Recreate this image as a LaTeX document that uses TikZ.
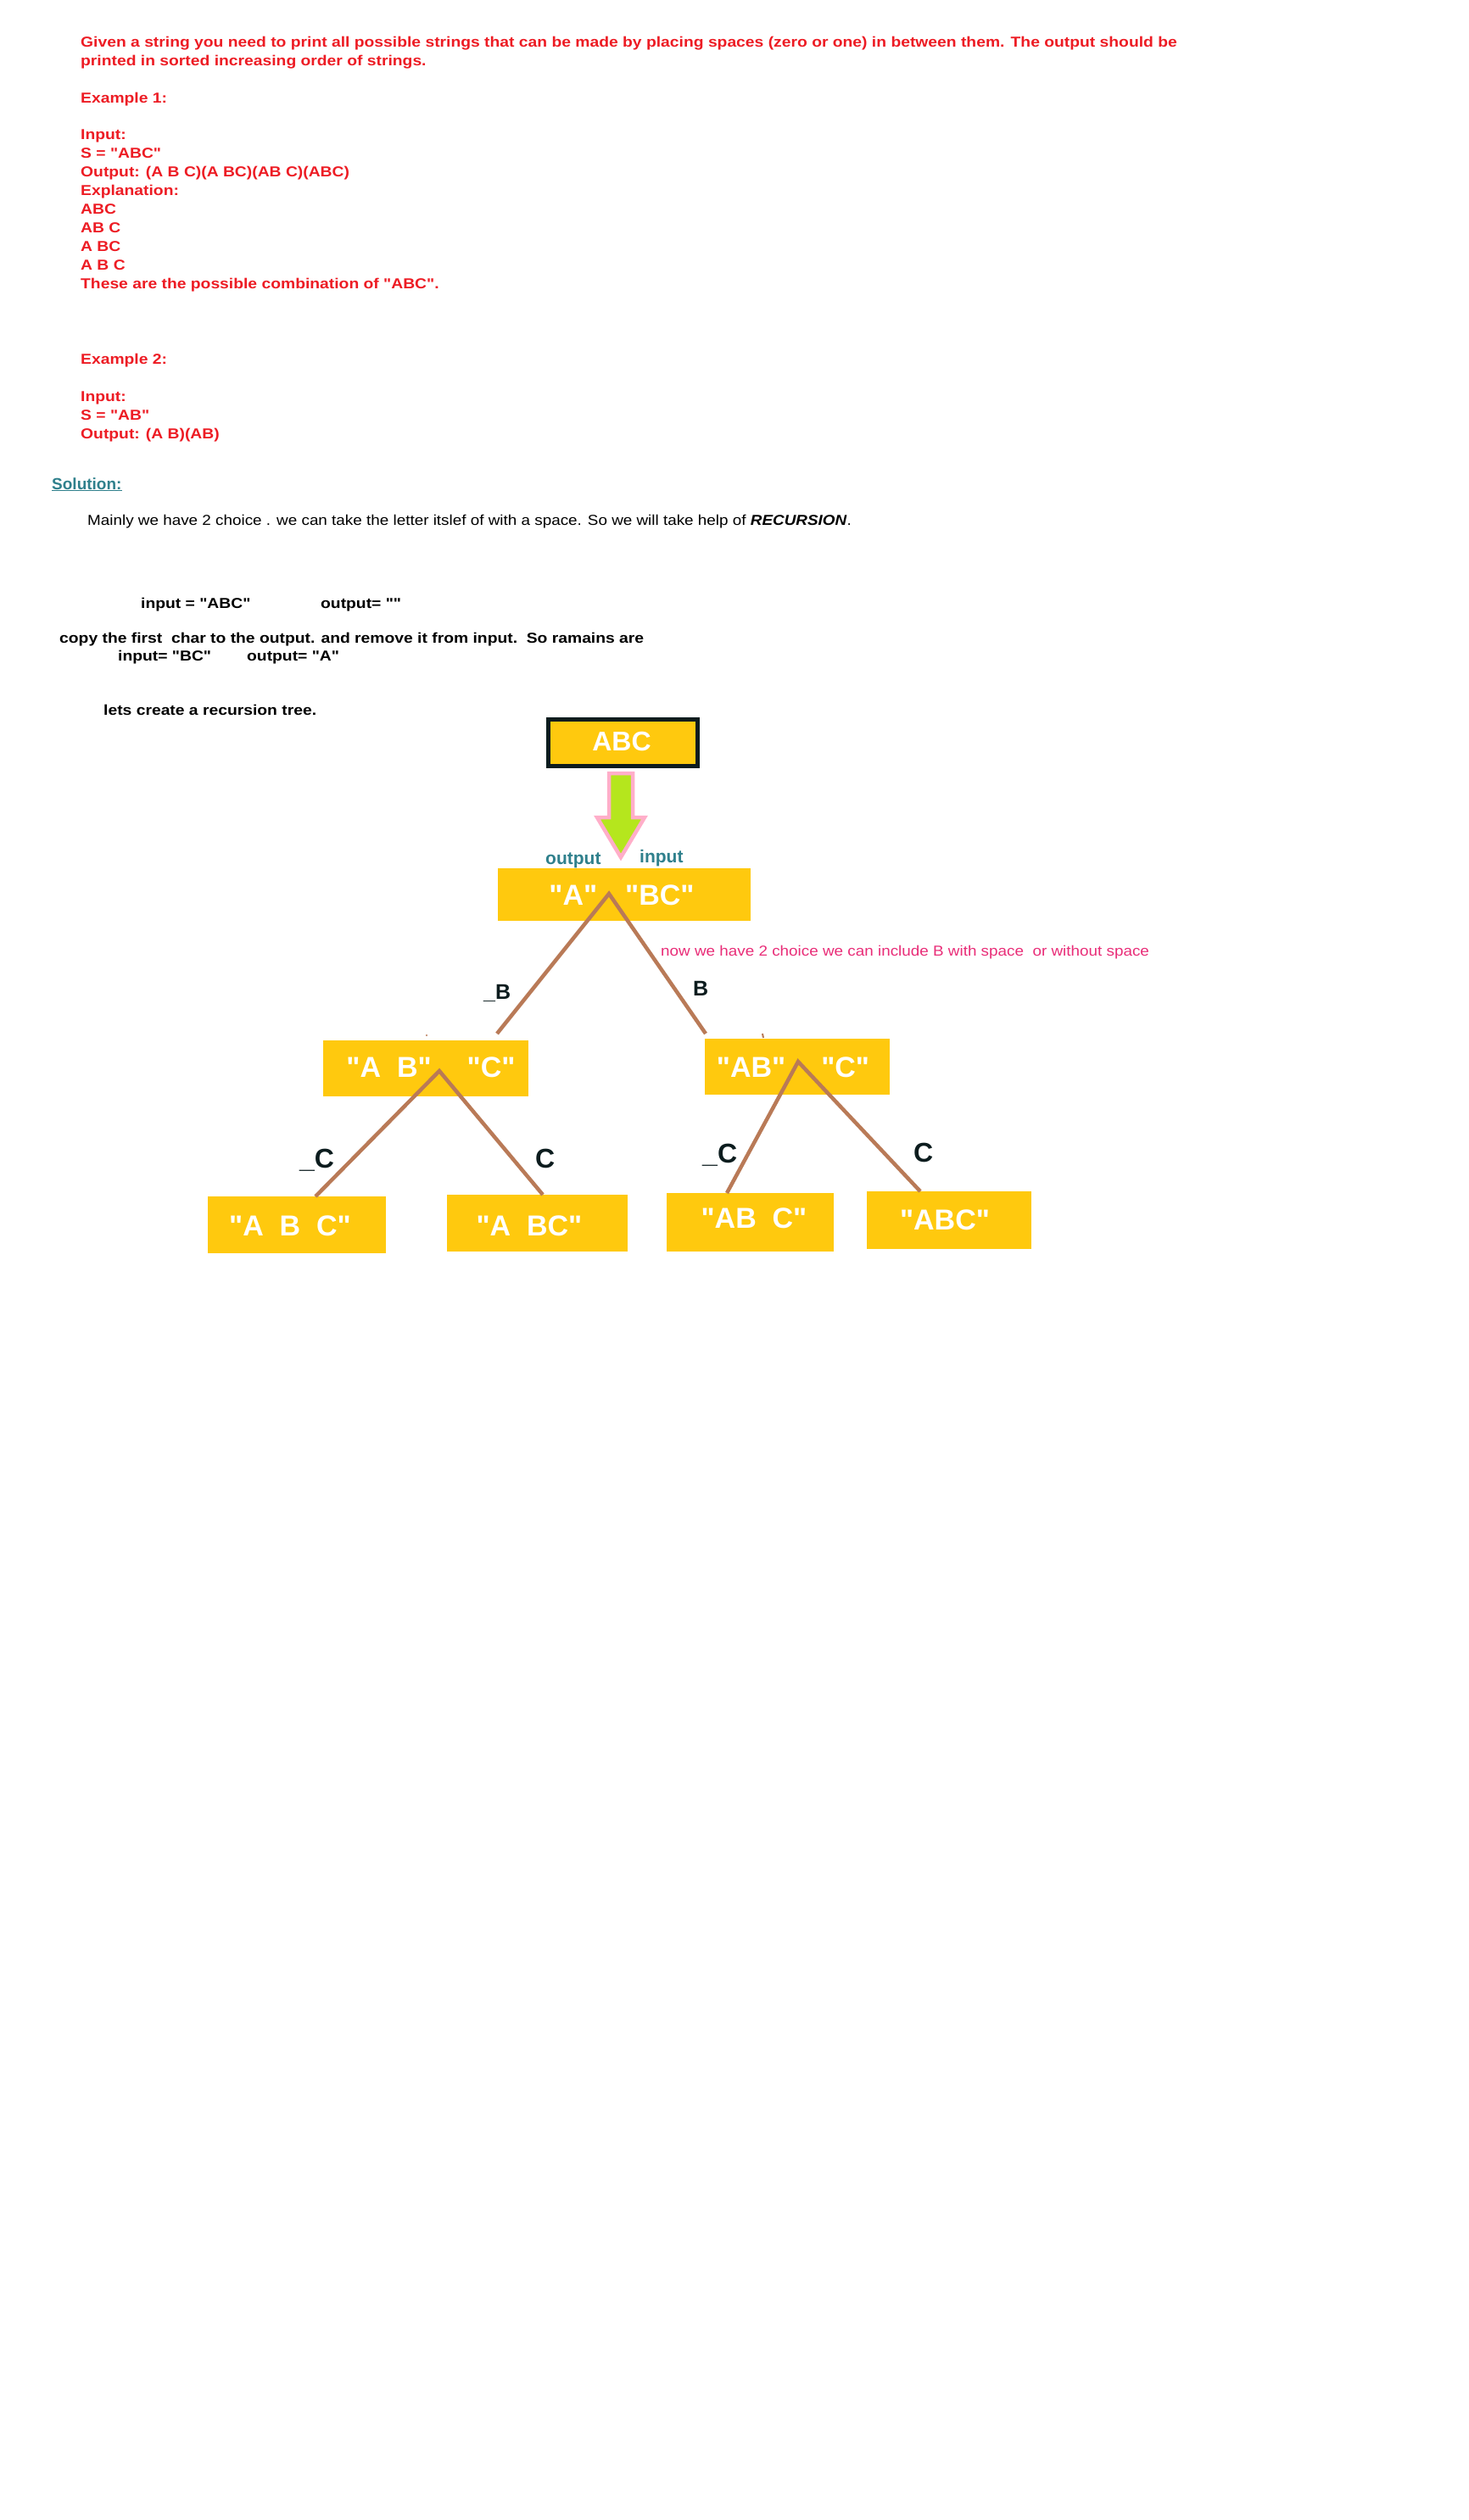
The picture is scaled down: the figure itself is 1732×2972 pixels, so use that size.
\documentclass[tikz,border=0pt]{standalone}
\usepackage{fontspec}
\setmainfont{Liberation Sans}[Ligatures=TeXOff]
\newfontfamily\regbody{Liberation Sans}[Ligatures=TeXOff,FakeStretch=1.11]
\newfontfamily\boldbody{Liberation Sans}[Ligatures=TeXOff,FakeStretch=1.135]
\definecolor{myred}{RGB}{237,28,36}
\definecolor{myyellow}{RGB}{255,201,14}
\definecolor{mybrown}{RGB}{185,122,87}
\definecolor{mylime}{RGB}{181,230,29}
\definecolor{mypink}{RGB}{255,174,201}
\definecolor{myteal}{RGB}{47,128,140}
\definecolor{mydark}{RGB}{12,28,30}
\definecolor{mymagenta}{RGB}{233,45,120}
\begin{document}
\begin{tikzpicture}[x=1pt,y=-1pt,
  redtxt/.style={anchor=base west,inner sep=0,text=myred,font=\boldbody\fontsize{17}{22}\selectfont\bfseries},
  blktxt/.style={anchor=base west,inner sep=0,text=black,font=\boldbody\fontsize{17}{22}\selectfont\bfseries},
  plaintxt/.style={anchor=base west,inner sep=0,text=black,font=\regbody\fontsize{17}{22}\selectfont},
  ybox/.style={fill=myyellow,draw=none,inner sep=0,rectangle},
  boxtxt/.style={anchor=base,inner sep=0,text=white,font=\fontsize{34}{40}\selectfont\bfseries},
  edgelbl/.style={anchor=base west,inner sep=0,text=mydark,font=\fontsize{25}{30}\selectfont\bfseries},
  edgelblc/.style={anchor=base west,inner sep=0,text=mydark,font=\fontsize{32}{36}\selectfont\bfseries},
  tealtxt/.style={anchor=base west,inner sep=0,text=myteal,font=\fontsize{21}{24}\selectfont\bfseries},
  treeline/.style={draw=mybrown,line width=4.5pt}
]
\fill[white] (0,0) rectangle (1732,2972);
\useasboundingbox (0,0) rectangle (1732,2972);

% problem statement
\node[redtxt] (t1) at (95,55) {Given a string you need to print all possible strings that can be made by placing spaces (zero or one) in between them. The output should be};
\node[redtxt] (t2) at (95,77) {printed in sorted increasing order of strings.};
\node[redtxt] (t3) at (95,121) {Example 1:};
\node[redtxt] (t4) at (95,164) {Input:};
\node[redtxt] (t5) at (95,186) {S = "ABC"};
\node[redtxt] (t6) at (95,208) {Output: (A B C)(A BC)(AB C)(ABC)};
\node[redtxt] (t7) at (95,230) {Explanation:};
\node[redtxt] (t8) at (95,252) {ABC};
\node[redtxt] (t9) at (95,274) {AB C};
\node[redtxt] (t10) at (95,296) {A BC};
\node[redtxt] (t11) at (95,318) {A B C};
\node[redtxt] (t12) at (95,340) {These are the possible combination of "ABC".};
\node[redtxt] (t13) at (95,429) {Example 2:};
\node[redtxt] (t14) at (95,473) {Input:};
\node[redtxt] (t15) at (95,495) {S = "AB"};
\node[redtxt] (t16) at (95,517) {Output: (A B)(AB)};

% solution
\node[anchor=base west,inner sep=0,text=myteal,font=\fontsize{19}{22}\selectfont\bfseries] (sol) at (61,577) {\underline{Solution:}};
\node[plaintxt] (s1) at (103,619) {Mainly we have 2 choice . we can take the letter itslef of with a space. So we will take help of \textbf{\textit{RECURSION}}.};
\node[blktxt] (s2) at (166,717) {input = "ABC"};
\node[blktxt] (s3) at (378,717) {output= ""};
\node[blktxt] (s4) at (70,758) {copy the first\ \ char to the output. and remove it from input.\ \ So ramains are};
\node[blktxt] (s5) at (139,779) {input= "BC"};
\node[blktxt] (s6) at (291,779) {output= "A"};
\node[blktxt] (s7) at (122,843) {lets create a recursion tree.};

% root box
\node[fill=myyellow,draw=mydark,line width=5pt,minimum width=176pt,minimum height=55pt,inner sep=0] (root) at (734.5,876) {};
\node[anchor=base,inner sep=0,text=white,font=\fontsize{32}{36}\selectfont\bfseries] (roottxt) at (733,885) {ABC};

% big arrow
\draw[draw=mypink,fill=mylime,line width=4.5pt,line join=miter] (718,912) -- (746,912) -- (746,964) -- (760,964) -- (732,1011) -- (704,964) -- (718,964) -- cycle;
\node[tealtxt] (outlbl) at (643,1019) {output};
\node[tealtxt] (inlbl) at (754,1017) {input};

% level 1
\node[ybox,minimum width=298pt,minimum height=62pt] (n1) at (736,1055) {};
\node[boxtxt] (n1t) at (733,1067) {"A"\hspace{33pt}"BC"};

% level 2
\node[ybox,minimum width=242pt,minimum height=66pt] (n2) at (502,1260) {};
\node[boxtxt] (n2t) at (508,1270) {"A\ \ B"\hspace{42pt}"C"};
\node[ybox,minimum width=218pt,minimum height=66pt] (n3) at (940,1258) {};
\node[boxtxt] (n3t) at (935,1270) {"AB"\hspace{42pt}"C"};

% level 3
\node[ybox,minimum width=210pt,minimum height=67pt] (n4) at (350,1444.5) {};
\node[boxtxt] (n4t) at (342,1457) {"A\ \ B\ \ C"};
\node[ybox,minimum width=213pt,minimum height=67pt] (n5) at (633.5,1442.5) {};
\node[boxtxt] (n5t) at (624,1457) {"A\ \ BC"};
\node[ybox,minimum width=197pt,minimum height=69pt] (n6) at (884.5,1441.5) {};
\node[boxtxt] (n6t) at (889,1448) {"AB\ \ C"};
\node[ybox,minimum width=194pt,minimum height=68pt] (n7) at (1119,1439) {};
\node[boxtxt] (n7t) at (1114,1450) {"ABC"};

% tree coordinates
\coordinate (a1) at (718,1054);
\coordinate (e2) at (586,1219);
\coordinate (e3) at (832,1219);
\coordinate (a2) at (518,1263);
\coordinate (a3) at (941,1252);
\coordinate (e4) at (372,1411);
\coordinate (e5) at (640,1409);
\coordinate (e6) at (857,1407);
\coordinate (e7) at (1085,1405);

\draw[treeline] (e2) -- (a1) -- (e3);
\draw[treeline] (e4) -- (a2) -- (e5);
\draw[treeline] (e6) -- (a3) -- (e7);

% tiny stray marks
\coordinate (m1) at (503,1221);
\coordinate (m2) at (899,1219);
\fill[mybrown] (m1) circle (1.2pt);
\draw[mybrown,line width=2pt] (m2) -- ++(1,5);

% edge labels
\node[edgelbl] (lb1) at (570,1178) {\_B};
\node[edgelbl] (lb2) at (817,1174) {B};
\node[edgelblc] (lc1) at (353,1377) {\_C};
\node[edgelblc] (lc2) at (631,1377) {C};
\node[edgelblc] (lc3) at (828,1371) {\_C};
\node[edgelblc] (lc4) at (1077,1370) {C};

% note
\node[anchor=base west,inner sep=0,text=mymagenta,font=\regbody\fontsize{17}{20}\selectfont] (note) at (779,1127) {now we have 2 choice we can include B with space\ \ or without space};

\end{tikzpicture}
\end{document}
